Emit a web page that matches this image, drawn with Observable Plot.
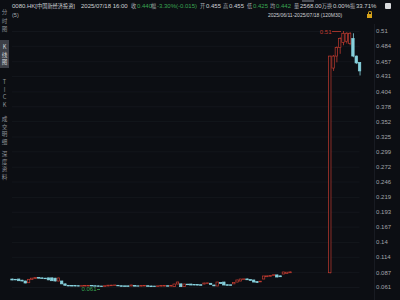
<!DOCTYPE html>
<html><head><meta charset="utf-8">
<script src="https://cdn.jsdelivr.net/npm/d3@7"></script>
<script src="https://cdn.jsdelivr.net/npm/@observablehq/plot@0.6"></script>
<style>
html,body{margin:0;padding:0;background:#0c0e13;}
#wrap{position:relative;width:400px;height:300px;overflow:hidden;background:#0c0e13;font-family:"Liberation Sans","Noto Sans CJK SC",sans-serif;}
.t{position:absolute;font-size:6px;line-height:8px;white-space:nowrap;color:#cfd1d5;}
.l{color:#a9acb2;font-size:5.2px;font-family:"Noto Sans CJK SC",sans-serif;}
.c{font-size:5.2px;font-family:"Noto Sans CJK SC",sans-serif;}
.g{color:#3aa552;}
.side{position:absolute;left:0;width:9px;text-align:center;font-size:5.6px;color:#8e9197;font-family:"Noto Sans CJK SC","Liberation Sans",sans-serif;}
#chart{position:absolute;left:0;top:0;}
</style></head><body>
<div id="wrap">
  <div id="chart"></div>
  <div style="position:absolute;left:374px;top:24px;width:1px;height:276px;background:#181b22;"></div>
  <div style="position:absolute;left:302px;top:0;width:12px;height:1.5px;background:#4a4d55;"></div>
  <div class="t" style="left:12px;top:2px;">0080.HK[<span class="c">中国新经济投资</span>]</div>
  <div class="t" style="left:81px;top:2px;">2025/07/18 16:00</div>
  <div class="t l" style="left:131px;top:2px;">收</div><div class="t g" style="left:137px;top:2px;">0.440</div>
  <div class="t l" style="left:151px;top:2px;">幅</div><div class="t g" style="left:157px;top:2px;">-3.30%(-0.015)</div>
  <div class="t l" style="left:200px;top:2px;">开</div><div class="t" style="left:206px;top:2px;">0.455</div>
  <div class="t l" style="left:223px;top:2px;">高</div><div class="t" style="left:229px;top:2px;">0.455</div>
  <div class="t l" style="left:247px;top:2px;">低</div><div class="t g" style="left:253px;top:2px;">0.425</div>
  <div class="t l" style="left:270px;top:2px;">均</div><div class="t g" style="left:276px;top:2px;">0.442</div>
  <div class="t l" style="left:294px;top:2px;">量</div><div class="t" style="left:300px;top:2px;">2568.00<span class="c">万</span></div>
  <div class="t l" style="left:327px;top:2px;">换</div><div class="t" style="left:333px;top:2px;">0.00%</div>
  <div class="t l" style="left:350px;top:2px;">振</div><div class="t" style="left:356px;top:2px;">33.71%</div>
  <div style="position:absolute;left:385px;top:3px;width:6px;height:6px;background:#d9dadc;border-radius:1px;"></div>
  <div class="t l" style="left:12px;top:11px;font-size:5.5px;font-family:'Liberation Sans',sans-serif;">(5)</div>
  <div class="t" style="left:268px;top:11px;font-size:5px;">2025/06/11-2025/07/18 (120M30)</div>
  <div style="position:absolute;left:367px;top:14px;width:5px;height:4px;background:#d6a21a;"></div>
  <div style="position:absolute;left:368px;top:11px;width:2px;height:3px;border:1px solid #d6a21a;border-bottom:none;border-radius:2px 2px 0 0;"></div>

  <div class="side" style="top:8px;line-height:8.5px;">分<br>时<br>图</div>
  <div style="position:absolute;left:0;top:40px;width:8.5px;height:28px;background:#3c3f47;"></div>
  <div class="side" style="top:44px;line-height:7.7px;color:#d2d4d8;">K<br>线<br>图</div>
  <div class="side" style="top:79px;line-height:7.7px;">T<br>I<br>C<br>K</div>
  <div class="side" style="top:116px;line-height:7.7px;">成<br>交<br>明<br>细</div>
  <div class="side" style="top:151px;line-height:7.7px;">深<br>度<br>资<br>料</div>
</div>
<script>
// y-axis tick labels (right side)
const yTicks = [0.51,0.484,0.457,0.431,0.404,0.378,0.352,0.325,0.299,0.272,0.246,0.219,0.193,0.167,0.14,0.114,0.087,0.061];

// OHLC per bar (index = bar position); null = no trading
const opens = [
 .0750,.0745,.0750,.0730,.0715,.0685,.0745,.0760,.0775,.0770,
 .0765,.0770,.0770,.0765,.0715,.0715,.0665,.0640,.0635,.0635,
 .0633,.0626,.0627,.0628,.0636,.0632,.0630,.0627,.0620,.0628,
 .0632,.0635,.0640,.0632,.0630,.0630,.0628,.0635,.0630,.0625,
 .0628,.0632,.0628,.0626,.0620,.0625,.0626,.0632,.0626,.0616,
 .0662,.0665,.0616,.0660,.0662,.0655,.0652,.0650,.0662,.0670,
 .0675,.0645,.0628,.0690,.0697,.0650,.0648,.0665,.0697,.0715,
 .0740,.0752,.0740,.0733,.0705,.0700,.0750,.0790,.0798,.0812,
 .0822,.0805,.0838,.0845,.0860,
 null,null,null,null,null,null,null,null,null,null,null,
 .0860,.4450,.4660,.4810,.4900,.4920,.4880,.4970,.4660,.4550];
const closes = [
 .0733,.0735,.0720,.0715,.0680,.0745,.0765,.0775,.0765,.0760,
 .0755,.0735,.0720,.0715,.0768,.0665,.0640,.0628,.0627,.0627,
 .0626,.0633,.0638,.0636,.0628,.0625,.0622,.0618,.0632,.0642,
 .0643,.0645,.0630,.0622,.0620,.0621,.0645,.0625,.0625,.0635,
 .0638,.0622,.0616,.0618,.0630,.0636,.0638,.0624,.0638,.0662,
 .0697,.0616,.0662,.0650,.0645,.0645,.0643,.0640,.0680,.0682,
 .0655,.0630,.0697,.0670,.0645,.0640,.0640,.0688,.0733,.0750,
 .0752,.0737,.0725,.0697,.0690,.0712,.0803,.0805,.0810,.0825,
 .0785,.0790,.0873,.0870,.0875,
 null,null,null,null,null,null,null,null,null,null,null,
 .4660,.4660,.4810,.4970,.5060,.5060,.5060,.4660,.4540,.4400];
const highs = [
 .0755,.0750,.0755,.0735,.0720,.0750,.0770,.0780,.0780,.0775,
 .0770,.0775,.0775,.0770,.0775,.0720,.0670,.0645,.0640,.0640,
 .0638,.0637,.0642,.0640,.0640,.0636,.0634,.0630,.0636,.0646,
 .0647,.0649,.0644,.0636,.0634,.0634,.0649,.0639,.0634,.0639,
 .0642,.0636,.0632,.0630,.0634,.0640,.0642,.0636,.0642,.0666,
 .0705,.0669,.0666,.0664,.0666,.0659,.0656,.0654,.0684,.0686,
 .0679,.0649,.0701,.0694,.0701,.0654,.0652,.0692,.0737,.0754,
 .0756,.0756,.0744,.0737,.0709,.0716,.0807,.0809,.0814,.0829,
 .0826,.0809,.0877,.0874,.0880,
 null,null,null,null,null,null,null,null,null,null,null,
 .4665,.4680,.4830,.4990,.5100,.5080,.5080,.5060,.4670,.4550];
const lows = [
 .0730,.0730,.0715,.0710,.0675,.0680,.0740,.0755,.0760,.0755,
 .0750,.0730,.0715,.0710,.0710,.0660,.0635,.0624,.0622,.0622,
 .0621,.0622,.0623,.0624,.0624,.0621,.0618,.0610,.0616,.0624,
 .0628,.0631,.0626,.0618,.0616,.0617,.0624,.0621,.0621,.0621,
 .0624,.0618,.0612,.0614,.0616,.0621,.0622,.0620,.0622,.0612,
 .0658,.0613,.0612,.0646,.0641,.0641,.0639,.0636,.0658,.0666,
 .0651,.0626,.0624,.0666,.0641,.0636,.0636,.0661,.0693,.0711,
 .0736,.0733,.0721,.0693,.0686,.0696,.0746,.0786,.0794,.0808,
 .0781,.0786,.0834,.0841,.0856,
 null,null,null,null,null,null,null,null,null,null,null,
 .0850,.4400,.4550,.4700,.4850,.4880,.4850,.4640,.4520,.4320];

const bg = "#0c0e13", red = "#c03b30", cyan = "#86d0dc", green = "#3aa552";

const bars = opens.map((o, i) => ({i, open:o, close:closes[i], high:highs[i], low:lows[i]}))
  .filter(d => d.open != null);
bars.forEach(d => d.up = d.close >= d.open);

const hiBar = bars.reduce((a, b) => b.high > a.high ? b : a);
const loBar = bars.reduce((a, b) => b.low < a.low ? b : a);

const chart = Plot.plot({
  width: 400, height: 300,
  marginTop: 31, marginBottom: 13, marginLeft: 12, marginRight: 40.45,
  x: {domain: [0, opens.length - 1], axis: null},
  y: {domain: [0.061, 0.51], axis: null},
  style: {background: "transparent", color: "#a3a6ab", fontFamily: "Liberation Sans, sans-serif"},
  marks: [
    Plot.ruleY(yTicks, {stroke: "#13161c", strokeWidth: 1}),
    Plot.axisY(yTicks, {anchor: "right", tickSize: 0, tickPadding: 16, fontSize: 6, tickFormat: d => String(d)}),
    Plot.ruleX(bars, {x: "i", y1: "low", y2: "high", stroke: d => d.up ? red : cyan, strokeWidth: 0.8}),
    Plot.rect(bars, {x1: d => d.i - 0.37, x2: d => d.i + 0.37, y1: "open", y2: "close",
      fill: d => d.up ? bg : cyan, stroke: d => d.up ? red : cyan, strokeWidth: 0.7}),
    Plot.text([hiBar], {x: "i", y: "high", text: d => String(d.high), textAnchor: "end", dx: -12, dy: 1, fill: red, fontSize: 6}),
    Plot.ruleY([hiBar], {y: "high", x1: d => d.i - 3.3, x2: d => d.i - 0.6, stroke: red, strokeWidth: 0.8}),
    Plot.text([loBar], {x: "i", y: "low", text: d => d.low.toFixed(3), textAnchor: "end", dx: -5.4, dy: 2, fill: green, fontSize: 6}),
    Plot.ruleY([loBar], {y: "low", x1: d => d.i - 1.3, x2: d => d.i - 0.4, dy: 2, stroke: green, strokeWidth: 0.8})
  ]
});
document.getElementById("chart").appendChild(chart);
</script>
</body></html>
